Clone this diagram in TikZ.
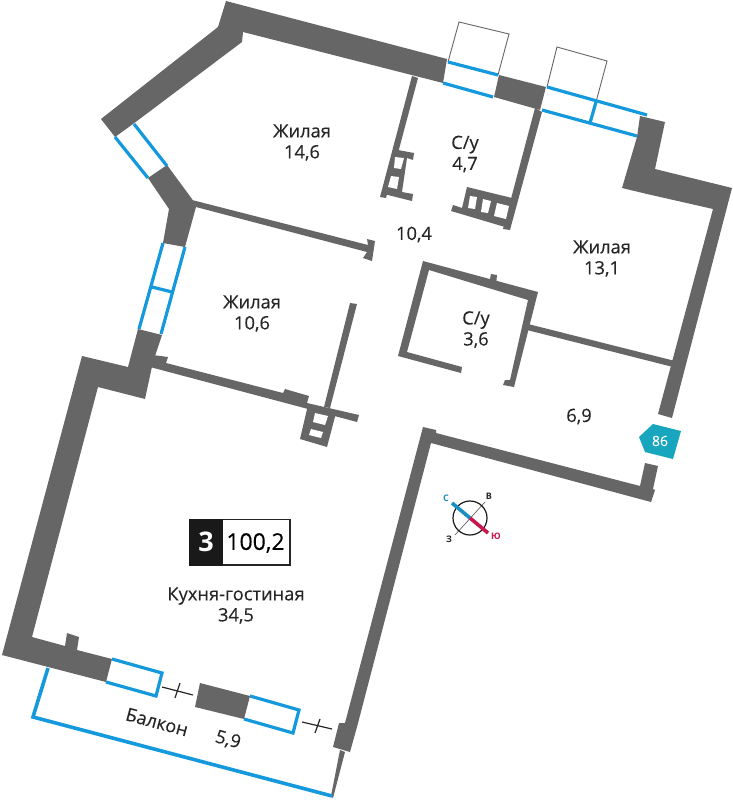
\documentclass[tikz,border=0pt]{standalone}
\usepackage{fontspec}
\setmainfont{Open Sans}
\newfontfamily\semifont[FakeBold=0.25]{Open Sans}
\definecolor{wallc}{HTML}{666666}
\definecolor{winc}{HTML}{1399DC}
\definecolor{txtc}{HTML}{262626}
\definecolor{tealc}{HTML}{17A6BE}
\definecolor{redc}{HTML}{C8174F}
\definecolor{cblue}{HTML}{1A8FBF}
\tikzset{
  wallp/.style={fill=wallc,draw=none},
  holep/.style={fill=white,draw=none},
  winl/.style={draw=winc,line width=3.2pt,line cap=butt,line join=miter},
  thinl/.style={draw=wallc,line width=0.9pt},
  tickl/.style={draw=txtc,line width=1.2pt},
  roomlabel/.style={text=txtc,font=\semifont\fontsize{18.3}{21}\selectfont,align=center,inner sep=0pt},
  complabel/.style={font=\fontsize{9}{10}\selectfont\bfseries,inner sep=0pt}
}
\begin{document}
\begin{tikzpicture}[x=1pt,y=-1pt]
\useasboundingbox[fill=white] (0,0) rectangle (732,800);
% thin outlines of open sashes
\draw[thinl] (448,62) -- (459,22) -- (509,34) -- (498,75);
\draw[thinl] (547,87) -- (557,47) -- (607,61) -- (596,102);
% outer walls
\fill[wallp] (226,1) -- (447,59) -- (443,83) -- (243,32) -- (242,42) -- (133,124) -- (115,137) -- (101,119) -- (218,27) -- cycle;
\fill[wallp] (148,178) -- (167,165) -- (192,199) -- (196,207) -- (185,247) -- (163,243) -- (169,209) -- cycle;
\fill[wallp] (138,329) -- (162,335) -- (153,362) -- (145,399) -- (98,387) -- (32,637) -- (65,646) -- (67,633) -- (79,637) -- (77,650) -- (112,659) -- (106,682) -- (2,655) -- (82,356) -- (128,367) -- cycle;
\fill[wallp] (499,75) -- (546,87) -- (540,110) -- (494,97) -- cycle;
\fill[wallp] (640,116) -- (665,122) -- (655,169) -- (732,188) -- (672,418) -- (658,414) -- (713,209) -- (647,194) -- (622,188) -- (637,137) -- cycle;
\fill[wallp] (423,427) -- (436,430) -- (436,433) -- (640,486) -- (645,463) -- (658,466) -- (653,489) -- (655,490) -- (651,502) -- (431,443) -- (357,727) -- (350,752) -- (333,747) -- (339,723) -- (345,723) -- cycle;
\fill[wallp] (200,683) -- (250,696) -- (244,719) -- (195,707) -- cycle;
\fill[wallp] (340,750) -- (345,752) -- (333,798) -- (331,796) -- cycle;
% partitions
\fill[wallp] (192,200) -- (368,245) -- (367,239) -- (375,241) -- (372,261) -- (363,258) -- (367,252) -- (196,207) -- cycle;
\fill[wallp] (412,76) -- (418,78) -- (386,198) -- (380,197) -- cycle;
\fill[wallp] (398,150) -- (414,153) -- (413,160) -- (407,158) -- (402,192) -- (413,194) -- (412,201) -- (384,194) -- cycle;
\fill[holep] (395,157) -- (404,158) -- (401,169) -- (394,168) -- cycle;
\fill[holep] (391,176) -- (399,177) -- (397,189) -- (388,187) -- cycle;
\fill[wallp] (535,108) -- (542,112) -- (510,230) -- (503,229) -- cycle;
\fill[wallp] (467,187) -- (512,198) -- (505,227) -- (451,211) -- (453,205) -- (462,208) -- cycle;
\fill[holep] (470,196) -- (477,197) -- (475,209) -- (468,208) -- cycle;
\fill[holep] (483,199) -- (491,201) -- (488,213) -- (481,212) -- cycle;
\fill[holep] (497,203) -- (509,206) -- (506,219) -- (494,216) -- cycle;
\fill[wallp] (423,261) -- (538,292) -- (514,387) -- (503,385) -- (505,380) -- (510,380) -- (528,300) -- (429,270) -- (407,352) -- (462,367) -- (461,373) -- (398,356) -- cycle;
\fill[wallp] (491,274) -- (497,275) -- (496,285) -- (489,284) -- cycle;
\fill[wallp] (528,324) -- (675,361) -- (673,367) -- (527,330) -- cycle;
\fill[wallp] (153,355) -- (168,357) -- (166,363) -- (283,393) -- (285,389) -- (309,396) -- (307,403) -- (359,415) -- (357,422) -- (150,367) -- cycle;
\fill[wallp] (350,303) -- (357,304) -- (330,408) -- (324,407) -- cycle;
\fill[wallp] (308,405) -- (300,439) -- (327,447) -- (336,413) -- cycle;
\fill[holep] (315,413) -- (328,416) -- (325,425) -- (313,422) -- cycle;
\fill[holep] (311,429) -- (323,432) -- (321,438) -- (309,435) -- cycle;
% windows
\draw[winl] (115,137) -- (148,178);
\draw[winl] (134,124) -- (167,166);
\draw[winl] (163,243) -- (139,329);
\draw[winl] (185,247) -- (161,334);
\draw[winl] (152,287) -- (172,292);
\draw[winl] (448,62) -- (498,75);
\draw[winl] (443,83) -- (493,97);
\draw[winl] (547,87) -- (647,115);
\draw[winl] (542,110) -- (637,136);
\draw[winl] (596,102) -- (590,123);
\draw[winl] (112,659) -- (162,673) -- (156,696) -- (106,682);
\draw[winl] (250,696) -- (299,710) -- (293,733) -- (244,719);
\draw[winl,line width=3.6pt] (48,668) -- (33,717) -- (332,796);
% door ticks
\draw[tickl] (162,687) -- (193,695);
\draw[tickl] (180,683) -- (175,698);
\draw[tickl] (302,722) -- (332,729);
\draw[tickl] (320,719) -- (315,733);
% room labels
\node[roomlabel] (r1) at (302,142.5) {Жилая\\14,6};
\node[roomlabel] (r2) at (465,154) {С/у\\4,7};
\node[roomlabel] (r3) at (602,258.5) {Жилая\\13,1};
\node[roomlabel] (r4) at (414,234.5) {10,4};
\node[roomlabel] (r5) at (252,313.5) {Жилая\\10,6};
\node[roomlabel] (r6) at (476,329.5) {С/у\\3,6};
\node[roomlabel] (r7) at (579,416.5) {6,9};
\node[roomlabel] (r8) at (236,605.5) {Кухня-гостиная\\34,5};
\node[roomlabel,rotate=-15] (r9) at (157,722) {Балкон};
\node[roomlabel,rotate=-15] (r10) at (228,740) {5,9};
% badge
\draw[fill=white,draw=txtc,line width=1.1pt] (189.5,519.5) rectangle (290,565);
\fill[fill=black!90] (189,519) rectangle (223,565.5);
\node[text=white,font=\fontsize{27}{27}\selectfont\bfseries,inner sep=0pt] (bn) at (206,542) {3};
\node[text=black,font=\semifont\fontsize{23}{25}\selectfont,inner sep=0pt] (ba) at (255.5,543) {100,2};
% entrance marker
\fill[fill=tealc] (653,424) -- (681,431) -- (673,459) -- (645,452) -- (639,437) -- cycle;
\node[text=white,font=\semifont\fontsize{14}{14}\selectfont,inner sep=0pt] (mk) at (660,441) {86};
% compass
\draw[thinl,line width=0.7pt] (485,502) -- (455,535);
\draw[draw=black!90,line width=1.2pt] (470,518) circle (17);
\draw[draw=cblue,line width=3.6pt] (452,503) -- (470,518);
\draw[draw=redc,line width=3.6pt] (470,518) -- (488,533);
\node[complabel,text=cblue] (cn) at (446,498) {С};
\node[complabel,text=txtc] (ce) at (489,496) {В};
\node[complabel,text=txtc] (cw) at (449,539) {З};
\node[complabel,text=redc] (cs) at (496,536) {Ю};
\end{tikzpicture}
\end{document}
